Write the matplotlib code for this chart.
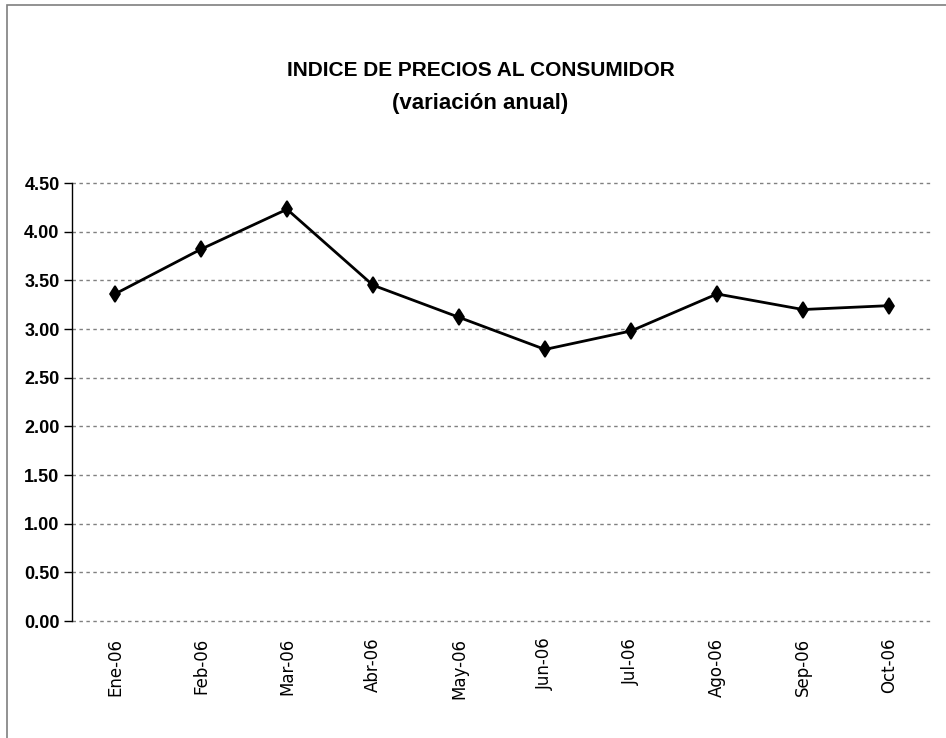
import numpy as np
import matplotlib.pyplot as plt
from matplotlib.patches import Rectangle

meses = ["Ene-06", "Feb-06", "Mar-06", "Abr-06", "May-06",
         "Jun-06", "Jul-06", "Ago-06", "Sep-06", "Oct-06"]
ipc = [3.36, 3.82, 4.23, 3.45, 3.12, 2.79, 2.98, 3.36, 3.20, 3.24]
yticks = [0.0, 0.5, 1.0, 1.5, 2.0, 2.5, 3.0, 3.5, 4.0, 4.5]

fuente = ['Liberation Sans', 'DejaVu Sans']

fig = plt.figure(figsize=(9.46, 7.38), dpi=100)
# marco gris del grafico
fig.patches.append(Rectangle((7/946, -0.1), 1.2, 1.1 - 5/738, transform=fig.transFigure,
                             fill=False, edgecolor='#7f7f7f', linewidth=1.2))

ax = fig.add_axes([72/946, 1-621/738, 860/946, (621-183)/738])
x = np.arange(len(meses))
ax.plot(x, ipc, color='black', linewidth=2, marker='d', markersize=8,
        markeredgewidth=1.2, zorder=3)

ax.set_xlim(-0.5, len(meses) - 0.5)
ax.set_ylim(0, 4.5)
ax.set_yticks(yticks)
ax.set_yticklabels(["%.2f" % v for v in yticks], family=fuente, fontweight='bold', fontsize=13)
ax.set_xticks(x)
ax.set_xticklabels(meses, rotation=90, fontsize=12, va='top')

for v in yticks:
    ax.axhline(v, color='#808080', linestyle=(0, (2.5, 2.5)), linewidth=1, zorder=1, clip_on=False)

for s in ['top', 'right', 'bottom']:
    ax.spines[s].set_visible(False)
ax.spines['left'].set_linewidth(1)
ax.tick_params(axis='x', length=0, pad=12)
ax.tick_params(axis='y', length=6, width=1, direction='out', pad=3)

fig.text(0.508, 1-70/738, "INDICE DE PRECIOS AL CONSUMIDOR", ha='center', va='center',
         family=fuente, fontweight='bold', fontsize=15)
fig.text(0.508, 1-103/738, "(variación anual)", ha='center', va='center',
         family=fuente, fontweight='bold', fontsize=16)

plt.savefig("out.png", dpi=100)
plt.close(fig)
